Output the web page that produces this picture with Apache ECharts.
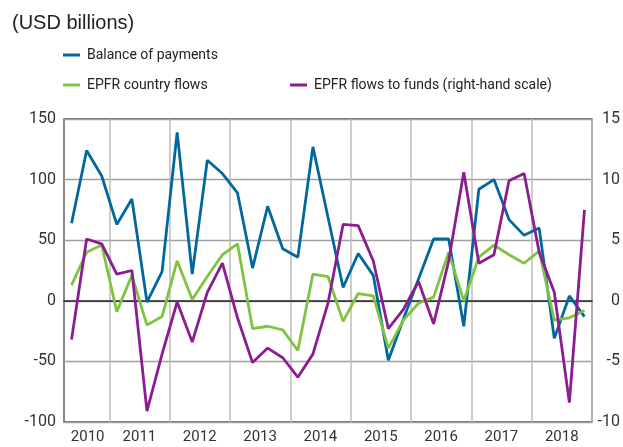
<!DOCTYPE html>
<html>
<head>
<meta charset="utf-8">
<script src="https://cdn.jsdelivr.net/npm/echarts@6/dist/echarts.min.js"></script>
<style>
  html, body { margin: 0; padding: 0; background: #fff; }
  #main { width: 623px; height: 447px; }
</style>
</head>
<body>
<div id="main"></div>
<script>
// quarters shown, 2010 Q2 to 2018 Q4
var quarters = [
  '2010Q2', '2010Q3', '2010Q4',
  '2011Q1', '2011Q2', '2011Q3', '2011Q4',
  '2012Q1', '2012Q2', '2012Q3', '2012Q4',
  '2013Q1', '2013Q2', '2013Q3', '2013Q4',
  '2014Q1', '2014Q2', '2014Q3', '2014Q4',
  '2015Q1', '2015Q2', '2015Q3', '2015Q4',
  '2016Q1', '2016Q2', '2016Q3', '2016Q4',
  '2017Q1', '2017Q2', '2017Q3', '2017Q4',
  '2018Q1', '2018Q2', '2018Q3', '2018Q4'
];

// USD billions, left scale
var balanceOfPayments = [64, 124, 103, 63, 84, -1, 24, 139, 22, 116, 105, 89, 27, 78, 43, 36, 127, 69,
  11, 39, 21, -49, -15, 18, 51, 51, -21, 92, 100, 67, 54, 60, -31, 4, -13];
var epfrCountryFlows = [13, 40, 46, -9, 21, -20, -13, 33, 1, 20, 38, 47, -23, -21, -24, -41, 22, 20,
  -17, 6, 4, -39, -16, -2, 3, 40, 0, 36, 46, 38, 31, 41, -16, -14, -8];
// right scale
var epfrFundFlows = [-3.2, 5.1, 4.7, 2.2, 2.5, -9.1, -4.4, -0.1, -3.4, 0.7, 3.1, -1.4, -5.1, -3.9, -4.7, -6.3, -4.4, -0.2,
  6.3, 6.2, 3.3, -2.3, -0.7, 1.6, -1.9, 3.3, 10.6, 3.1, 3.8, 9.9, 10.5, 4.0, 0.7, -8.4, 7.5];

var leftTicks = { min: -100, max: 150, interval: 50 };
var rightTicks = { min: -10, max: 15, interval: 5 };

var font = "Roboto, 'Liberation Sans', sans-serif";
var blue = '#00689c';
var green = '#80c342';
var purple = '#8c1d8e';

var dom = document.getElementById('main');
var myChart = echarts.init(dom, null, { renderer: 'canvas' });

function legendItem(name, left, top) {
  return {
    data: [name],
    left: left,
    top: top,
    padding: 0,
    icon: 'rect',
    itemWidth: 17,
    itemHeight: 3,
    selectedMode: false,
    textStyle: { fontFamily: font, fontSize: 14, lineHeight: 18, color: '#222', padding: [0, 0, 0, 2] }
  };
}

var option = {
  animation: false,
  title: {
    text: '(USD billions)',
    left: 12,
    top: 13,
    padding: 0,
    textStyle: { fontFamily: "'Liberation Sans', sans-serif", fontSize: 20, fontWeight: 'normal', color: '#222' }
  },
  legend: [
    legendItem('Balance of payments', 63, 46),
    legendItem('EPFR country flows', 63, 76),
    legendItem('EPFR flows to funds (right-hand scale)', 290, 76)
  ],
  grid: {
    left: 64,
    right: 29,
    top: 119,
    bottom: 25,
    show: true,
    borderColor: '#4a4a4a',
    borderWidth: 1.3,
    containLabel: false
  },
  xAxis: [
    {
      type: 'category',
      data: quarters,
      boundaryGap: true,
      axisLine: { show: false, onZero: false },
      axisTick: { show: false },
      axisLabel: {
        margin: 8,
        color: '#333',
        fontFamily: font,
        fontSize: 15,
        interval: function (index) {
          return index === 1 || (index > 3 && index % 4 === 0);
        },
        formatter: function (value, index) {
          var year = value.slice(0, 4);
          return index === 1 ? '{first|' + year + '}' : '{yr|' + year + '}';
        },
        rich: {
          first: { fontFamily: font, fontSize: 15, color: '#333', padding: [0, 0, 0, 2] },
          yr: { fontFamily: font, fontSize: 15, color: '#333', padding: [0, 0, 0, 15] }
        }
      },
      splitLine: {
        show: true,
        interval: function (index) { return index % 4 === 3; },
        lineStyle: { color: '#bdbdbd', width: 1.5 }
      }
    },
    {
      // zero line
      type: 'category',
      data: quarters,
      axisLine: { show: true, onZero: true, onZeroAxisIndex: 0, lineStyle: { color: '#222', width: 1.5 } },
      axisTick: { show: false },
      axisLabel: { show: false },
      splitLine: { show: false }
    }
  ],
  yAxis: [
    {
      type: 'value',
      min: leftTicks.min,
      max: leftTicks.max,
      interval: leftTicks.interval,
      axisLine: { show: false },
      axisTick: { show: false },
      axisLabel: { margin: 8, color: '#333', fontFamily: font, fontSize: 16 },
      splitLine: { lineStyle: { color: '#a0a0a0', width: 1.3 } }
    },
    {
      type: 'value',
      position: 'right',
      min: rightTicks.min,
      max: rightTicks.max,
      interval: rightTicks.interval,
      axisLine: { show: false },
      axisTick: { show: false },
      axisLabel: { margin: 28, align: 'right', color: '#333', fontFamily: font, fontSize: 16 },
      splitLine: { show: false }
    }
  ],
  series: [
    {
      name: 'Balance of payments',
      type: 'line',
      data: balanceOfPayments,
      yAxisIndex: 0,
      symbol: 'none',
      color: blue,
      lineStyle: { width: 2.8, color: blue }
    },
    {
      name: 'EPFR country flows',
      type: 'line',
      data: epfrCountryFlows,
      yAxisIndex: 0,
      symbol: 'none',
      color: green,
      lineStyle: { width: 2.8, color: green }
    },
    {
      name: 'EPFR flows to funds (right-hand scale)',
      type: 'line',
      data: epfrFundFlows,
      yAxisIndex: 1,
      symbol: 'none',
      color: purple,
      lineStyle: { width: 2.8, color: purple }
    }
  ]
};

myChart.setOption(option);
</script>
</body>
</html>
